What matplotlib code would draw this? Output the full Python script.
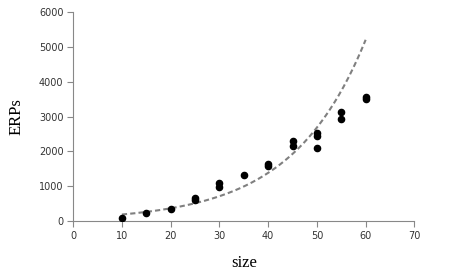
import matplotlib.pyplot as plt
import numpy as np

# data
size = [10, 15, 20, 25, 25, 30, 30, 35, 40, 40, 45, 45, 50, 50, 50, 55, 55, 60, 60]
erps = [80, 220, 360, 660, 600, 1090, 970, 1310, 1630, 1580, 2300, 2150,
        2520, 2450, 2110, 3130, 2920, 3570, 3510]

# exponential trendline y = a * exp(b * x), coefficients
trend_a = 98
trend_b = 0.0662
trend_range = [10, 60]

fig = plt.figure(figsize=(4.63, 2.73), dpi=100)
ax = fig.add_axes([0.158, 0.19, 0.737, 0.766])

xs = np.linspace(trend_range[0], trend_range[1], 200)
ax.plot(xs, trend_a * np.exp(trend_b * xs), color='#808080', lw=1.5,
        dashes=(2.5, 1.5), zorder=2)
ax.scatter(size, erps, s=20, color='black', zorder=3)

ax.set_xlim(0, 70)
ax.set_ylim(0, 6000)
ax.set_xticks(range(0, 71, 10))
ax.set_yticks(range(0, 6001, 1000))

for side in ['top', 'right']:
    ax.spines[side].set_visible(False)
for side in ['left', 'bottom']:
    ax.spines[side].set_color('#888888')
    ax.spines[side].set_linewidth(0.8)
ax.tick_params(colors='#888888', length=4, width=0.8, labelsize=7,
               labelcolor='#333333', pad=3)

ax.set_xlabel('size', family='Liberation Serif', fontsize=12, labelpad=10)
ax.set_ylabel('ERPs', family='Liberation Serif', fontsize=12, labelpad=10)

fig.savefig('out.png', dpi=100)
